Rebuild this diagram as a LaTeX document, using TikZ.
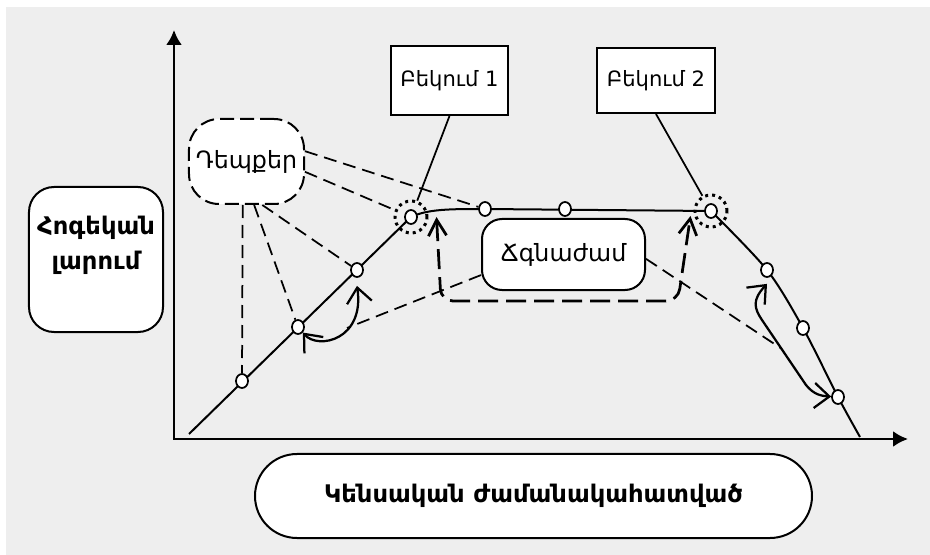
\documentclass[tikz,border=0pt]{standalone}
\usepackage{fontspec}
\setmainfont{DejaVu Sans}
\usetikzlibrary{arrows.meta,shapes.geometric}
\definecolor{bggray}{RGB}{238,238,238}

\begin{document}
\begin{tikzpicture}[x=0.2mm, y=-0.2mm, >={Straight Barb[length=3mm,width=5mm]},
  frame/.style={draw, line width=0.4mm, fill=white, inner sep=0pt},
  boxtxt/.style={font=\fontsize{12}{14}\selectfont},
  bigtxt/.style={font=\fontsize{13.5}{16}\selectfont},
  boldtxt/.style={font=\fontsize{13.8}{20}\selectfont\bfseries},
  pt/.style={draw, ellipse, fill=white, line width=0.35mm, minimum width=2.4mm, minimum height=2.8mm, inner sep=0pt},
  ring/.style={draw, circle, line width=0.6mm, dash pattern=on 0.6mm off 0.8mm, minimum size=6.4mm, inner sep=0pt},
  guide/.style={line width=0.35mm, dash pattern=on 2.6mm off 1.4mm},
  bigdash/.style={line width=0.55mm, dash pattern=on 4mm off 1.6mm, rounded corners=2.4mm}]

% Фон
\fill[bggray] (6,7) rectangle (930,555);
\useasboundingbox (0,0) rectangle (930,555);

% Осі
\draw[line width=0.5mm, {Latex[length=3mm,width=3.2mm]}-{Latex[length=3mm,width=3.2mm]}] (174,30) -- (174,439) -- (908,439);

% Підписи осей
\node[frame, rounded corners=5mm, minimum width=26.8mm, minimum height=29mm] (psych) at (96,259.5) {};
\node[boldtxt, align=center] (psychtxt) at (96,245) {Հոգեկան\\լարում};
\node[frame, rounded corners=8.4mm, minimum width=111.4mm, minimum height=16.8mm, boldtxt] (life) at (533.5,496) {Կենսական ժամանակահատված};

% Крива
\foreach \i/\x/\y in {1/242/381, 2/298/327, 3/357/270, 4/411/217, 5/485/209,
                      6/565/209, 7/711/211, 8/767/270, 9/803/328, 10/838/397}
  \coordinate (c\i) at (\x,\y);
\draw[line width=0.4mm] (189,434) -- (c4) .. controls (428,209) and (450,209) .. (c5) -- (c7)
  plot[smooth] coordinates {(c7) (c8) (c9) (c10) (860,437)};

% Точки
\foreach \i in {1,...,10}
  \node[pt] (p\i) at (c\i) {};
\node[ring] (ring1) at (c4) {};
\node[ring] (ring2) at (c7) {};

% Блоки
\node[frame, boxtxt, minimum width=23.4mm, minimum height=13.8mm] (break1) at (449.5,80.5) {Բեկում 1};
\node[frame, boxtxt, minimum width=23.6mm, minimum height=13mm] (break2) at (656,80.5) {Բեկում 2};
\node[frame, bigtxt, dash pattern=on 2.8mm off 1.2mm, rounded corners=6mm, minimum width=23mm, minimum height=17mm] (events) at (246.5,161.5) {Դեպքեր};
\node[frame, bigtxt, rounded corners=4mm, minimum width=32.6mm, minimum height=14.2mm] (crisis) at (563.5,254.5) {Ճգնաժամ};

% Бекум
\draw[line width=0.35mm] (break1.south) -- (ring1);
\draw[line width=0.35mm] (break2.south) -- (ring2);

% Депкер
\draw[guide] (events.10) -- (p5);
\draw[guide] (events.-10) -- (ring1);
\draw[guide] (events.-70) -- (p3);
\draw[guide] (events.-80) -- (p2);
\draw[guide] (events.-95) -- (p1);

% Стрілки
\draw[line width=0.45mm, <->] (p2) .. controls (318,350) and (365,340) .. ([yshift=-1.6mm]p3.south);
\draw[line width=0.45mm, <->] ([yshift=-1.2mm]p8.south) .. controls (752,300) and (754,308) .. (762,320)
  -- (806,385) .. controls (814,395) and (822,396) .. (p10);
\draw[bigdash, {Straight Barb[length=3.2mm,width=3.6mm]}-{Straight Barb[length=3.2mm,width=3.6mm]}]
  ([xshift=1.6mm]ring1.east) -- (441,301) -- (678,301) -- ([xshift=-0.6mm, yshift=-1mm]ring2.west);

% Чгнажам
\coordinate (archit) at (347,328);
\coordinate (backhit) at (782,349);
\draw[guide] (crisis.194) -- (archit);
\draw[guide] (crisis.-3) -- (backhit);

\end{tikzpicture}
\end{document}
